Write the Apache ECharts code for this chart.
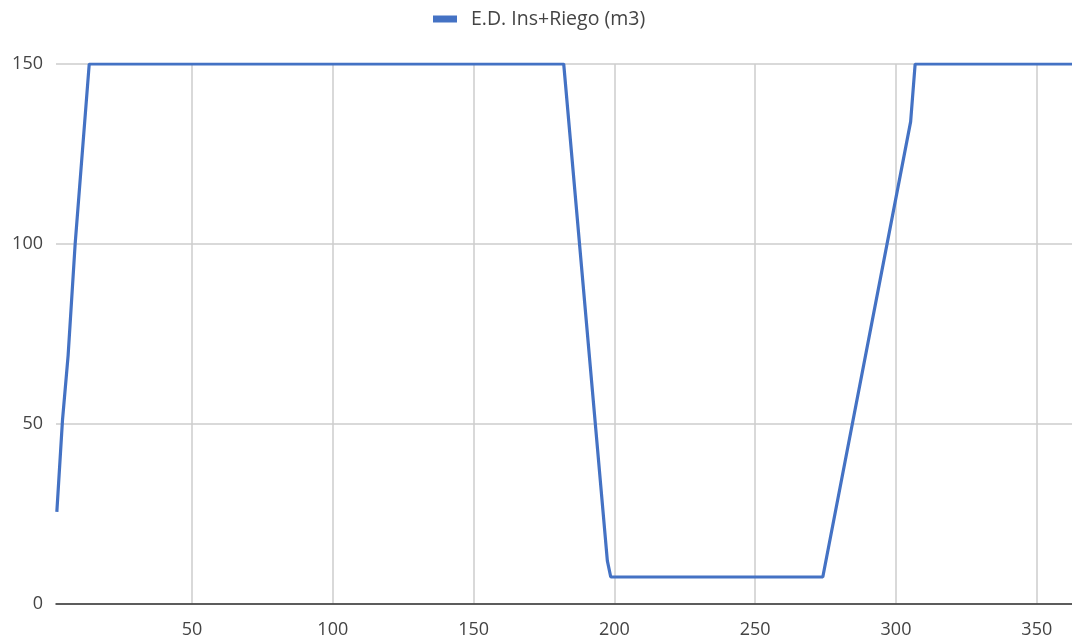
<!DOCTYPE html>
<html>
<head>
<meta charset="utf-8">
<title>E.D. Ins+Riego (m3)</title>
<script src="https://cdn.jsdelivr.net/npm/echarts@6/dist/echarts.min.js"></script>
<style>
  html, body { margin: 0; padding: 0; background: #ffffff; }
  #chart { width: 1072px; height: 643px; }
</style>
</head>
<body>
<div id="chart"></div>
<script>
// Daily stored volume (m3) through the year: day number and volume at each change of slope
const seriesName = 'E.D. Ins+Riego (m3)';
const days = [2, 4, 6, 8.5, 13.5, 182, 197.5, 198.7, 274, 305.2, 306.8, 365];
const volumes = [25.6, 51, 69, 100, 150, 150, 12, 7.5, 7.5, 134, 150, 150];
const yTicks = [0, 50, 100, 150];

const points = days.map((d, i) => [d, volumes[i]]);

const chart = echarts.init(document.getElementById('chart'), null, { renderer: 'canvas' });
const font = '"Open Sans", "Segoe UI", sans-serif';

chart.setOption({
  animation: false,
  backgroundColor: '#ffffff',
  textStyle: { fontFamily: font },
  legend: {
    data: [seriesName],
    left: 428,
    top: 4,
    icon: 'rect',
    itemWidth: 24,
    itemHeight: 7,
    textStyle: { fontFamily: font, fontSize: 19.5, color: '#444444', padding: [0, 0, 0, 9] }
  },
  grid: { left: 56, right: 0, top: 64, bottom: 39 },
  xAxis: {
    type: 'value',
    min: 1.7,
    max: 362.5,
    minInterval: 50,
    maxInterval: 50,
    axisLine: { show: true, lineStyle: { color: '#333333', width: 1.5 } },
    axisTick: { show: false },
    axisLabel: {
      fontFamily: font, fontSize: 18, color: '#444444', margin: 17,
      showMinLabel: false, showMaxLabel: false
    },
    splitLine: {
      show: true, showMinLine: false, showMaxLine: false,
      lineStyle: { color: '#cccccc', width: 1.5 }
    }
  },
  yAxis: {
    type: 'value',
    min: yTicks[0],
    max: yTicks[yTicks.length - 1],
    interval: yTicks[1] - yTicks[0],
    axisLine: { show: false },
    axisTick: { show: false },
    axisLabel: { fontFamily: font, fontSize: 18, color: '#444444', margin: 13 },
    splitLine: { show: true, lineStyle: { color: '#cccccc', width: 1.5 } }
  },
  series: [{
    name: seriesName,
    type: 'line',
    data: points,
    showSymbol: false,
    symbol: 'none',
    lineStyle: { color: '#4472c4', width: 3.2 },
    itemStyle: { color: '#4472c4' },
    clip: true
  }]
});
</script>
</body>
</html>
